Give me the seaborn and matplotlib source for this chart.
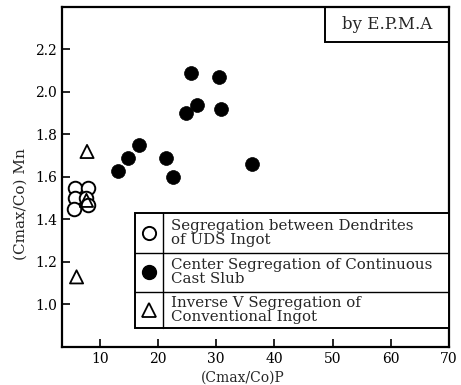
import matplotlib
matplotlib.use("Agg")
import matplotlib.pyplot as plt
import seaborn as sns
import pandas as pd
from matplotlib.lines import Line2D
from matplotlib.patches import Rectangle

# Data
dendrite_x = [5.7, 8.0, 5.7, 7.7, 5.5, 7.9]
dendrite_y = [1.55, 1.55, 1.50, 1.50, 1.45, 1.47]
center_x = [13.1, 14.8, 16.7, 21.3, 22.6, 24.8, 25.6, 26.7, 30.5, 30.8, 36.1]
center_y = [1.63, 1.69, 1.75, 1.69, 1.60, 1.90, 2.09, 1.94, 2.07, 1.92, 1.66]
inverse_x = [7.8, 6.0, 7.7]
inverse_y = [1.72, 1.13, 1.49]

labels = ["Segregation between Dendrites\nof UDS Ingot",
          "Center Segregation of Continuous\nCast Slub",
          "Inverse V Segregation of\nConventional Ingot"]
x_ticks = [10, 20, 30, 40, 50, 60, 70]
y_ticks = [1.0, 1.2, 1.4, 1.6, 1.8, 2.0, 2.2]

sns.set_theme(style="ticks")
plt.rcParams['font.family'] = ['DejaVu Serif']

fig = plt.figure(figsize=(4.61, 3.85), dpi=100)
ax = fig.add_axes([0.1345, 0.0987, 0.8395, 0.8833])

df_d = pd.DataFrame({"x": dendrite_x, "y": dendrite_y})
df_c = pd.DataFrame({"x": center_x, "y": center_y})
df_i = pd.DataFrame({"x": inverse_x, "y": inverse_y})

sns.scatterplot(data=df_d, x="x", y="y", ax=ax, marker="o", s=95,
                facecolor="white", edgecolor="black", linewidth=1.4, zorder=3)
sns.scatterplot(data=df_i, x="x", y="y", ax=ax, marker="^", s=90,
                facecolor="none", edgecolor="black", linewidth=1.3, zorder=4)
sns.scatterplot(data=df_c, x="x", y="y", ax=ax, marker="o", s=100,
                color="black", edgecolor="black", linewidth=0.5, zorder=3)

ax.set_xlim(3.5, 70)
ax.set_ylim(0.8, 2.4)
ax.set_xticks(x_ticks)
ax.set_yticks(y_ticks)
ax.set_yticklabels([f"{v:.1f}" for v in y_ticks])
ax.tick_params(direction="in", length=6, width=1.2, labelsize=10, colors="black")
for s in ax.spines.values():
    s.set_linewidth(1.6)
    s.set_color("black")

ax.set_xlabel("(Cmax/Co)P", fontsize=10)
ax.set_ylabel("(Cmax/Co) Mn", fontsize=11)
ax.xaxis.set_label_coords(0.467, -0.07)
ax.yaxis.set_label_coords(-0.09, 0.42)

# "by E.P.M.A" box
tb_x0 = (325 - 62) / 387
tb_y0 = 1 - (42 - 7) / 340
ax.add_patch(Rectangle((tb_x0, tb_y0), 1 - tb_x0, 1 - tb_y0, transform=ax.transAxes,
                       fill=False, edgecolor="black", linewidth=1.4, zorder=5, clip_on=False))
ax.text((tb_x0 + 1) / 2, (tb_y0 + 1) / 2, "by E.P.M.A", transform=ax.transAxes,
        ha="center", va="center", fontsize=12, zorder=6)

# Table-style legend
lx0 = (135 - 62) / 387
ldiv = (163 - 62) / 387
ly_top = 1 - (213 - 7) / 340
ly_bot = 1 - (328 - 7) / 340
rows = [ly_top, 1 - (253 - 7) / 340, 1 - (292 - 7) / 340, ly_bot]
ax.add_patch(Rectangle((lx0, ly_bot), 1 - lx0, ly_top - ly_bot, transform=ax.transAxes,
                       facecolor="white", edgecolor="black", linewidth=1.4, zorder=7))
ax.add_line(Line2D([ldiv, ldiv], [ly_bot, ly_top], transform=ax.transAxes,
                   color="black", linewidth=1.0, zorder=8))
for r in rows[1:-1]:
    ax.add_line(Line2D([lx0, 1], [r, r], transform=ax.transAxes,
                       color="black", linewidth=1.0, zorder=8))
styles = [dict(marker="o", markerfacecolor="white", markeredgecolor="black", markersize=9.5, markeredgewidth=1.4),
          dict(marker="o", markerfacecolor="black", markeredgecolor="black", markersize=10),
          dict(marker="^", markerfacecolor="white", markeredgecolor="black", markersize=9.5, markeredgewidth=1.3)]
for i, (lab, st) in enumerate(zip(labels, styles)):
    yc = (rows[i] + rows[i + 1]) / 2
    ax.add_line(Line2D([(lx0 + ldiv) / 2], [yc], transform=ax.transAxes, linestyle="none", zorder=9, **st))
    ax.text(ldiv + 0.02, yc, lab, transform=ax.transAxes, ha="left", va="center",
            fontsize=10.8, linespacing=1.0, zorder=9)

fig.savefig("out.png", dpi=100)
